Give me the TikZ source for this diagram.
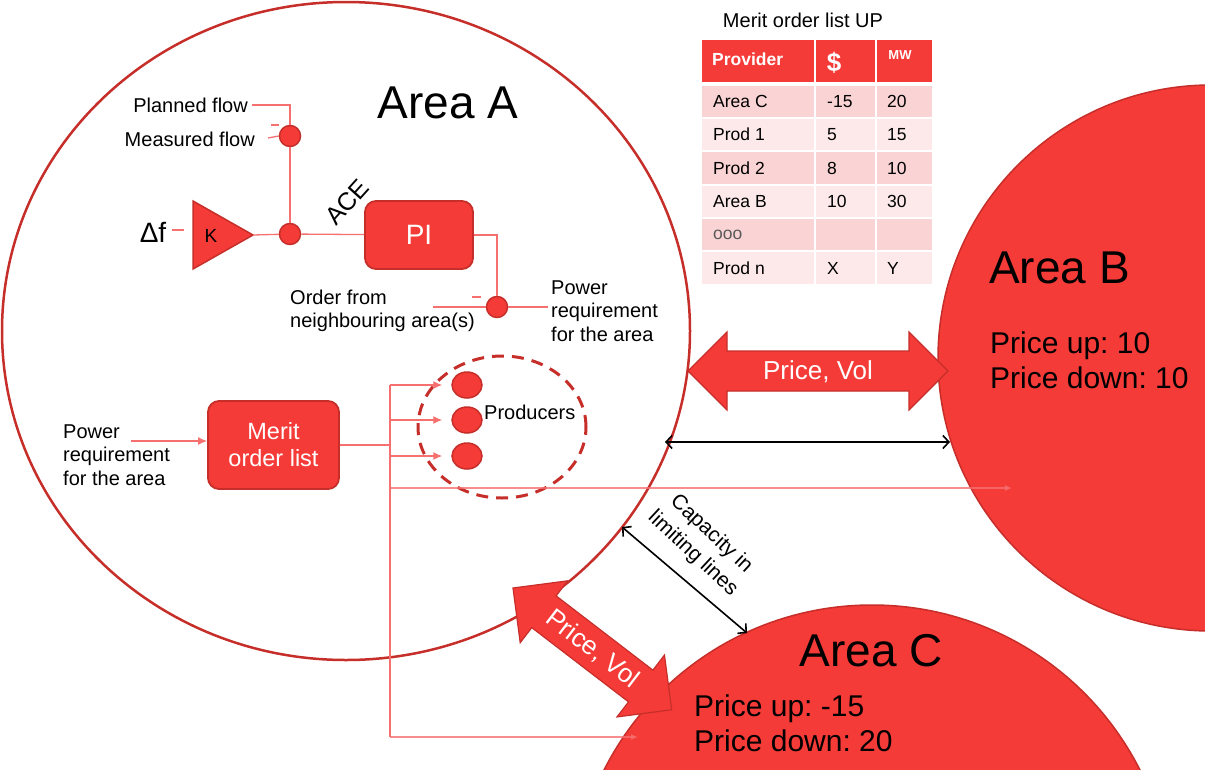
\documentclass[tikz,border=0pt]{standalone}
\usepackage{fontspec}
\setmainfont{Liberation Sans}
\usetikzlibrary{arrows.meta,shapes.geometric}
\definecolor{redfill}{RGB}{245,59,56}
\definecolor{redline}{RGB}{198,46,42}
\definecolor{pinkline}{RGB}{246,112,112}
\definecolor{rowdark}{RGB}{250,212,212}
\definecolor{rowlight}{RGB}{253,233,233}
\newcommand\fsz[2]{\fontsize{#1}{#2}\selectfont}
\frenchspacing
\begin{document}
\frenchspacing
\begin{tikzpicture}[x=1pt,y=-1pt,
  pink/.style={draw=pinkline,line width=1.3pt},
  ptr/.style={pink,-{Latex[length=9pt,width=8pt]}},
  faintptr/.style={pink,-{Latex[length=7pt,width=6pt]}},
  sumnode/.style={circle,fill=redfill,draw=redline,line width=1.5pt,minimum size=21pt,inner sep=0pt},
  prodnode/.style={ellipse,fill=redfill,draw=redline,line width=1.5pt,minimum width=30pt,minimum height=26pt,inner sep=0pt},
  redbox/.style={rounded corners=11pt,fill=redfill,draw=redline,line width=1.8pt,inner sep=0pt,text=white},
  area/.style={circle,fill=redfill,draw=redline,line width=1.5pt,inner sep=0pt},
  blockarrow/.style={fill=redfill,draw=redline,line width=1.2pt,line join=miter},
  blk/.style={draw=black,line width=1.6pt,{Straight Barb[length=6pt,width=13pt]}-{Straight Barb[length=6pt,width=13pt]}},
  lbl/.style={inner sep=0pt,font=\fsz{20}{23.5}},
  big/.style={inner sep=0pt,font=\fsz{46}{50}},
  price/.style={inner sep=0pt,font=\fsz{30}{35},align=left,anchor=west},
  cell/.style={inner sep=0pt,font=\fsz{17.5}{20},anchor=west},
]
\useasboundingbox (0,0) rectangle (1205,769);
\clip (0,0) rectangle (1205,769);

% ---------- areas ----------
\node[ellipse,draw=redline,line width=2.5pt,minimum width=688pt,minimum height=658pt,inner sep=0pt] (A) at (346,331) {};
\node[area,minimum size=546pt] (B) at (1211,358) {};
\node[area,minimum size=600pt] (C) at (872,905) {};

% ---------- control loop ----------
\node[lbl,anchor=east] (pf) at (248,105) {Planned flow};
\node[lbl,anchor=east] (mf) at (255,139) {Measured flow};
\node[sumnode] (s1) at (290,136) {};
\node[sumnode] (s2) at (290,234) {};
\node[sumnode] (s3) at (497,307) {};
\draw[pink] (pf.east) ++(4,0) -| (s1.north);
\draw[pink] (mf.east) ++(13,-1) -- (s1.west);
\draw[pink] (271,125) -- (279,125);
\draw[pink] (s1) -- (s2);

\draw[fill=redfill,draw=redline,line width=1.5pt] (193,201) -- (253,235) -- (193,269) -- cycle;
\coordinate (Ktip) at (253,235);
\node[inner sep=0pt,font=\fsz{19}{21}] (K) at (211,236) {K};
\node[inner sep=0pt,font=\fsz{28}{30}] (df) at (153,232) {Δf};
\draw[pink] (df.east) ++(6,-2) -- ++(12,0);
\draw[pink] (Ktip) -- (s2);

\node[redbox,minimum width=108pt,minimum height=68pt,font=\fsz{28}{30}] (PI) at (419,235) {PI};
\draw[pink] (s2) -- (PI);
\draw[pink] (PI.east) -| (s3);
\node[inner sep=0pt,font=\fsz{25}{27},rotate=48] (ace) at (347,202) {ACE};

\node[lbl,anchor=west,align=left] (ord) at (290,311) {Order from\\neighbouring area(s)};
\draw[pink] (433,307) -- (s3);
\draw[pink] (472,297) -- (481,297);
\node[lbl,anchor=west,align=left] (preq) at (551,311) {Power\\requirement\\for the area};
\draw[pink] (s3) -- (548,307);

% ---------- merit order / producers ----------
\node[lbl,anchor=west,align=left] (preq2) at (63,455) {Power\\requirement\\for the area};
\node[redbox,minimum width=131pt,minimum height=88pt,font=\fsz{23.5}{27},align=center] (mol) at (273.5,445) {Merit\\order list};
\coordinate (pin) at (131,441);
\draw[ptr] (pin) -- (pin -| mol.west);

\node[prodnode] (p1) at (467,385) {};
\node[prodnode] (p2) at (467,420) {};
\node[prodnode] (p3) at (467,456) {};
\node[ellipse,draw=redline,line width=3pt,dash pattern=on 12pt off 8pt,minimum width=168pt,minimum height=142pt,inner sep=0pt] (grp) at (502,427) {};
\node[lbl,anchor=west] (prodlbl) at (484,412) {Producers};

\coordinate (trunkTop) at (390,385);
\coordinate (trunkBot) at (390,737);
\draw[pink] (mol.east) -- (mol.east -| trunkTop);
\draw[pink] (trunkTop) -- (trunkBot);
\draw[ptr,shorten >=9pt] (p1.west -| trunkTop) -- (p1.west);
\draw[ptr,shorten >=9pt] (p2.west -| trunkTop) -- (p2.west);
\draw[ptr,shorten >=9pt] (p3.west -| trunkTop) -- (p3.west);
\coordinate (bEnd) at (1012,488);
\coordinate (cEnd) at (638,737);
\draw[faintptr,opacity=0.8] (trunkTop |- bEnd) -- (bEnd);
\draw[faintptr,opacity=0.8] (trunkBot) -- (cEnd);

% ---------- exchanges ----------
\draw[blockarrow] (688,371) -- (727,332) -- (727,351) -- (909,351) -- (909,332) -- (948,371)
  -- (909,410) -- (909,391) -- (727,391) -- (727,410) -- cycle;
\node[inner sep=0pt,font=\fsz{26}{28},text=white] (pvB) at (818,372) {Price, Vol};

\begin{scope}[shift={(513,588)},rotate=-37.5]
\draw[blockarrow] (0,0) -- (39,-39) -- (39,-20) -- (161,-20) -- (161,-39) -- (200,0)
  -- (161,39) -- (161,20) -- (39,20) -- (39,39) -- cycle;
\end{scope}
\node[inner sep=0pt,font=\fsz{26}{28},text=white,rotate=-37.5] (pvC) at (592.5,649) {Price, Vol};

\coordinate (ab1) at (665,442);
\coordinate (ab2) at (950,442);
\draw[blk] (ab1) -- (ab2);
\coordinate (ac1) at (622,527);
\coordinate (ac2) at (747,633);
\draw[blk] (ac1) -- (ac2);
\node[inner sep=0pt,rotate=-43,align=center,font=\fsz{21}{27}] (cap) at (702,544) {Capacity in\\limiting lines};

% ---------- area texts ----------
\node[big] (tA) at (448,103) {Area A};
\node[big,anchor=west] (tB) at (989,268) {Area B};
\node[price] (prB) at (990,360) {Price up: 10\\Price down: 10};
\node[big] (tC) at (871,651) {Area C};
\node[price] (prC) at (694,723) {Price up: -15\\Price down: 20};

% ---------- merit order table ----------
\node[lbl] (ttl) at (803,20) {Merit order list UP};
\fill[redfill] (702,40) rectangle (814,82);
\fill[redfill] (816,40) rectangle (875,82);
\fill[redfill] (877,40) rectangle (932,82);
\node[cell,text=white,font=\bfseries\fsz{17.5}{20}] (h1) at (712,59) {Provider};
\node[inner sep=0pt,text=white,font=\bfseries\fsz{26}{28}] (h2) at (834,63) {\$};
\node[inner sep=0pt,text=white,font=\bfseries\fsz{13}{15}] (h3) at (900,55) {MW};
\foreach \ya/\yb/\ym/\col/\a/\b/\c in {
  86/117/101.5/rowdark/Area C/-15/20,
  119/150/134.5/rowlight/Prod 1/5/15,
  152/184/168/rowdark/Prod 2/8/10,
  186/217/201.5/rowlight/Area B/10/30,
  219/250/234.5/rowdark/{\textcolor{black!65}{ooo}}//,
  252/284/268/rowlight/Prod n/X/Y}{
  \fill[\col] (702,\ya) rectangle (814,\yb);
  \fill[\col] (816,\ya) rectangle (875,\yb);
  \fill[\col] (877,\ya) rectangle (932,\yb);
  \node[cell] at (713,\ym) {\a};
  \node[cell] at (827,\ym) {\b};
  \node[cell] at (887,\ym) {\c};
}
\end{tikzpicture}
\end{document}
